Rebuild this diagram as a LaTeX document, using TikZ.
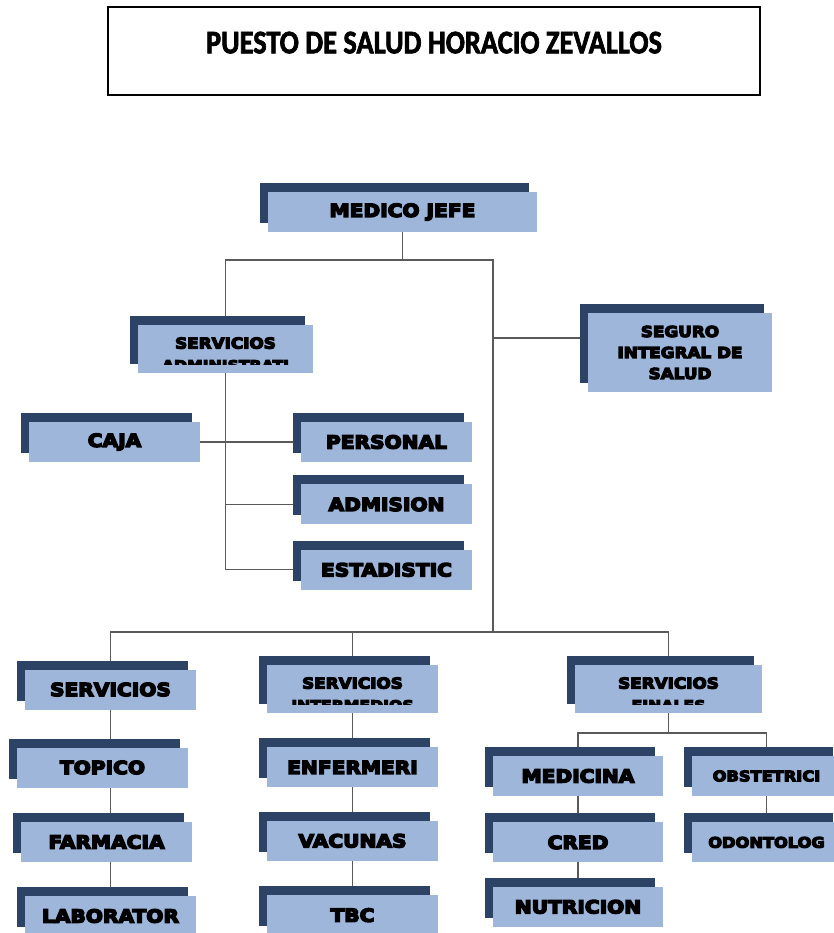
\documentclass[tikz,border=0pt]{standalone}
\usepackage{fontspec}
\setmainfont{Carlito}
\newfontfamily\titlefont[FakeStretch=0.86,FakeBold=2]{Carlito Bold}
\newfontfamily\boxfont[FakeStretch=1.12,FakeBold=8]{DejaVu Sans Bold}
\usetikzlibrary{positioning,shadows,backgrounds}
\definecolor{orgblue}{HTML}{9DB6DA}
\definecolor{orgdark}{HTML}{2C4366}
\definecolor{orgline}{HTML}{5A5A5A}

\begin{document}
\begin{tikzpicture}[
x=1pt, y=-1pt,
cargo/.style={fill=orgblue, inner sep=0pt, align=center, minimum width=171pt, minimum height=40pt,
  font=\boxfont\fontsize{18}{20}\selectfont,
  general shadow={fill=orgdark, shadow xshift=-8pt, shadow yshift=9pt}},
twoline/.style={minimum height=48pt, text depth=12pt, font=\boxfont\fontsize{15}{17}\selectfont,
  path picture={
    \clip ([yshift=9pt]path picture bounding box.south west) rectangle (path picture bounding box.north east);
    \node[anchor=base, inner sep=0pt, font=\boxfont\fontsize{14}{16}\selectfont]
      at ([yshift=2.5pt]path picture bounding box.south) {#1};}},
small/.style={font=\boxfont\fontsize{14.5}{16}\selectfont},
link/.style={draw=orgline, line width=1.3pt}
]
\useasboundingbox (0,0) rectangle (833,933);

% title
\node[draw, line width=1.2pt, minimum width=652pt, minimum height=88pt, text depth=17pt,
  font=\titlefont\fontsize{33}{35}\selectfont] (title) at (434,51) {PUESTO DE SALUD HORACIO ZEVALLOS};

% upper part
\node[cargo, minimum width=269pt] (jefe) at (402.5,212) {MEDICO JEFE};
\node[cargo, twoline=ADMINISTRATI, minimum width=175pt] (admin) at (225.5,349) {SERVICIOS};
\node[cargo, minimum width=184pt, minimum height=79pt,
  font=\boxfont\fontsize{15}{21}\selectfont] (seguro) at (680,352.5) {SEGURO\\INTEGRAL DE\\SALUD};
\node[cargo] (caja) at (114.5,442) {CAJA};
\node[cargo] (personal) at (386.5,442) {PERSONAL};
\node[cargo, below=22pt of personal] (admision) {ADMISION};
\node[cargo, below=25pt of admision] (estadistica) {ESTADISTIC};

% lower part
\node[cargo] (servgen) at (110.5,689.5) {SERVICIOS};
\node[cargo] (topico) at (102.5,767.5) {TOPICO};
\node[cargo] (farmacia) at (106.5,842) {FARMACIA};
\node[cargo] (laboratorio) at (110.5,916) {LABORATOR};

\node[cargo, twoline=INTERMEDIOS] (servint) at (352.5,689) {SERVICIOS};
\node[cargo, below=34pt of servint] (enfermeria) {ENFERMERI};
\node[cargo, below=33pt of enfermeria] (vacunas) {VACUNAS};
\node[cargo, below=34pt of vacunas] (tbc) {TBC};

\node[cargo, twoline=FINALES, minimum width=187pt] (servfin) at (668.5,689) {SERVICIOS};
\node[cargo, minimum width=170pt] (medicina) at (578,776) {MEDICINA};
\node[cargo, minimum width=170pt, below=26pt of medicina] (cred) {CRED};
\node[cargo, minimum width=170pt, below=24pt of cred] (nutricion) {NUTRICION};
\node[cargo, small, minimum width=149pt] (obstetricia) at (766.5,776) {OBSTETRICI};
\node[cargo, small, minimum width=149pt, below=26pt of obstetricia] (odontologia) {ODONTOLOG};

% connectors
\coordinate (jtop) at (493,260);
\coordinate (jbot) at (493,632);
\coordinate (seg) at (493,338);
\coordinate (fin) at (664,733);
\begin{scope}[on background layer]
\draw[link] (jefe) |- (jtop) -- (jbot);
\draw[link] (admin) |- (jtop);
\draw[link] (seg) -- (seg -| seguro);
\draw[link] (admin) |- (estadistica);
\draw[link] (caja) -- (personal);
\draw[link] (admin |- admision) -- (admision);
\draw[link] (jbot) -| (servgen);
\draw[link] (jbot) -| (servint);
\draw[link] (jbot) -| (servfin);
\draw[link] (servgen) -- (servgen |- laboratorio);
\draw[link] (servint) -- (tbc);
\draw[link] (servfin) -- (servfin |- fin);
\draw[link] (medicina) |- (fin) -| (obstetricia);
\draw[link] (medicina) -- (nutricion);
\draw[link] (obstetricia) -- (odontologia);
\end{scope}
\end{tikzpicture}
\end{document}
